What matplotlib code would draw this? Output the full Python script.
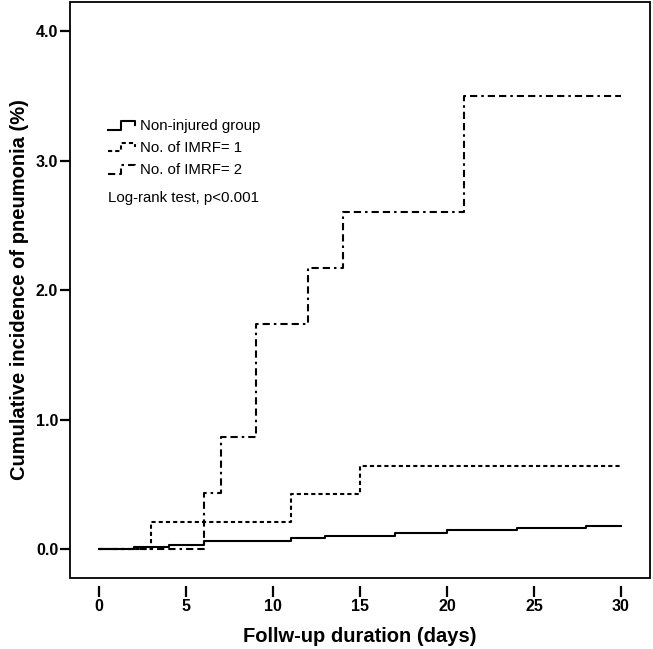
import matplotlib
matplotlib.use("Agg")
import matplotlib.pyplot as plt
from matplotlib.lines import Line2D
from matplotlib.patches import Rectangle

plt.rcParams['font.family'] = ['Liberation Sans', 'DejaVu Sans']
plt.rcParams['lines.scale_dashes'] = False

# Data (days, cumulative incidence %)
t_non = [0, 2, 4, 6, 11, 13, 17, 20, 24, 28, 30]
y_non = [0, 0.015, 0.032, 0.066, 0.086, 0.106, 0.126, 0.146, 0.162, 0.182, 0.182]

t_imrf1 = [0, 3, 11, 15, 30]
y_imrf1 = [0, 0.213, 0.426, 0.639, 0.639]

t_imrf2 = [0, 6, 7, 9, 12, 14, 21, 30]
y_imrf2 = [0, 0.434, 0.868, 1.736, 2.170, 2.604, 3.495, 3.495]

labels = ["Non-injured group", "No. of IMRF= 1", "No. of IMRF= 2"]
xticks = [0, 5, 10, 15, 20, 25, 30]
yticks = [0.0, 1.0, 2.0, 3.0, 4.0]

W, H = 653, 649
fig = plt.figure(figsize=(W / 100, H / 100), dpi=100)
L, R, T, B = 70, 650, 2, 577.7
ax = fig.add_axes([L / W, 1 - B / H, (R - L) / W, (B - T) / H])

lw = 1.5
dot_style = (0, (3.0, 2.2))
dashdot_style = (0, (5.2, 2.9, 5.2, 2.9, 1.8, 2.9))
styles = ['-', dot_style, dashdot_style]

ax.step(t_non, y_non, where='post', color='black', lw=lw, linestyle='-')
ax.step(t_imrf1, y_imrf1, where='post', color='black', lw=lw, linestyle=dot_style)
ax.step(t_imrf2, y_imrf2, where='post', color='black', lw=lw, linestyle=dashdot_style)

ax.set_xlim(-1.68, 31.67)
ax.set_ylim(-0.219, 4.223)
ax.set_xticks(xticks)
ax.set_xticklabels([str(v) for v in xticks])
ax.set_yticks(yticks)
ax.set_yticklabels([f"{v:.1f}" for v in yticks])

for s in ax.spines.values():
    s.set_visible(False)
ax.spines['bottom'].set_position(('outward', 6))
ax.add_patch(Rectangle((0, 0), 1, 1, transform=ax.transAxes, fill=False,
                       edgecolor='black', lw=1.3, clip_on=False, zorder=5))

ax.tick_params(axis='x', direction='out', length=8, width=1.6, pad=1.5,
               labelsize=11.5, top=False)
ax.tick_params(axis='y', direction='out', length=7, width=1.6, pad=1.5,
               labelsize=11.5, right=False)
for lab in ax.get_xticklabels() + ax.get_yticklabels():
    lab.set_fontweight('bold')

ax.set_xlabel("Follw-up duration (days)", fontsize=14.5, fontweight='bold', labelpad=9)
ax.set_ylabel("Cumulative incidence of pneumonia (%)", fontsize=14.5, fontweight='bold', labelpad=5)

# Legend (SPSS-style step glyphs), in pixel positions converted to figure fraction
def fx(px):
    return px / W

def fy(py):
    return 1 - py / H

rows_y = [126, 148, 170]
for yy, ls, lab in zip(rows_y, styles, labels):
    xs = [108, 121, 121, 135, 135]
    ys = [yy + 3.5, yy + 3.5, yy - 5, yy - 5, yy - 1]
    fig.add_artist(Line2D([fx(v) for v in xs], [fy(v) for v in ys],
                          color='black', lw=lw, linestyle=ls))
    fig.text(fx(140), fy(yy), lab, fontsize=10.8, va='center', ha='left')

fig.text(fx(108), fy(198), "Log-rank test, p<0.001", fontsize=10.8, va='center', ha='left')

fig.savefig("out.png", dpi=100)
